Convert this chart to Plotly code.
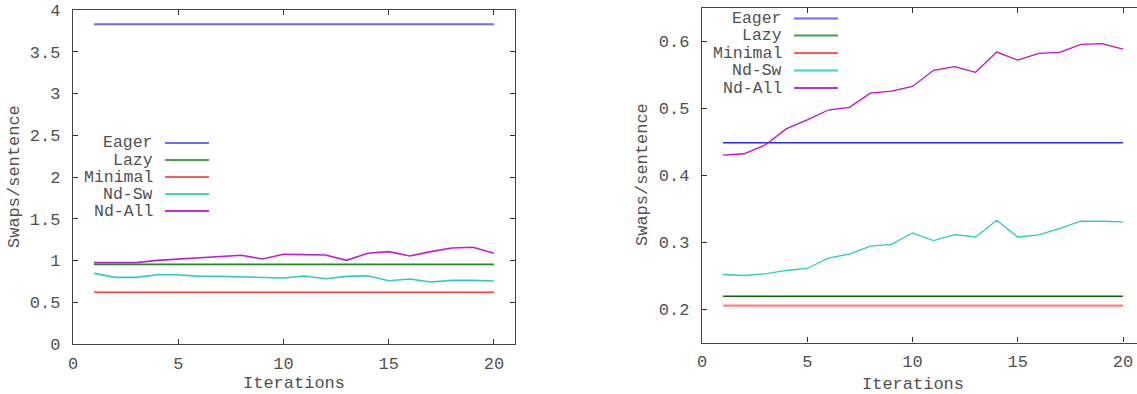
import plotly.graph_objects as go

W, H = 1137, 394

# ---------------- data ----------------
iterations = list(range(1, 21))
series_names = ["Eager", "Lazy", "Minimal", "Nd-Sw", "Nd-All"]

# left chart
eager_left = [3.83] * 20
lazy_left = [0.954] * 20
minimal_left = [0.619] * 20
ndsw_left = [0.846, 0.798, 0.798, 0.830, 0.830, 0.810, 0.810, 0.806, 0.802, 0.790,
             0.814, 0.782, 0.810, 0.818, 0.758, 0.778, 0.742, 0.762, 0.762, 0.754]
ndall_left = [0.974, 0.974, 0.974, 1.002, 1.018, 1.034, 1.050, 1.062, 1.018, 1.074,
              1.070, 1.066, 1.002, 1.086, 1.106, 1.054, 1.106, 1.150, 1.158, 1.086]

# right chart
eager_right = [0.448] * 20
lazy_right = [0.219] * 20
minimal_right = [0.205] * 20
ndsw_right = [0.2515, 0.250, 0.2525, 0.2575, 0.2605, 0.276, 0.282, 0.294, 0.2965, 0.3135,
              0.302, 0.311, 0.3075, 0.3325, 0.3075, 0.3105, 0.3205, 0.331, 0.331, 0.330]
ndall_right = [0.4296, 0.4317, 0.4447, 0.4688, 0.4824, 0.4970, 0.5010, 0.5221, 0.5251, 0.5322,
               0.5563, 0.5618, 0.5533, 0.5834, 0.5714, 0.5814, 0.5829, 0.595, 0.596, 0.588]

left_tickvals = [0, 0.5, 1, 1.5, 2, 2.5, 3, 3.5, 4]
right_tickvals = [0.2, 0.3, 0.4, 0.5, 0.6]
x_tickvals = [0, 5, 10, 15, 20]

# ---------------- styles ----------------
colors_left = ["#6a6aff", "#1a901a", "#ff3a3a", "#30c8c8", "#c020cc"]
widths_left = [2, 1.6, 1.6, 1.6, 1.6]
colors_right = ["#2a2aff", "#0a640a", "#ff8080", "#30c8c8", "#c010c8"]
widths_right = [1.5, 1.3, 2.2, 1.3, 1.3]
legend_colors = ["#6a6aff", "#4aa04a", "#ff5a5a", "#40d0d0", "#c030cc"]

FONT = "Liberation Mono, Courier New, monospace"
TXT = "#505050"
FS = 17
FS_LEG = 16.5

def px_x(x):
    return x / W

def px_y(y):
    return 1 - y / H

fig = go.Figure()

left_data = [eager_left, lazy_left, minimal_left, ndsw_left, ndall_left]
right_data = [eager_right, lazy_right, minimal_right, ndsw_right, ndall_right]

for name, ys, c, w in zip(series_names, left_data, colors_left, widths_left):
    fig.add_trace(go.Scatter(x=iterations, y=ys, mode="lines", name=name,
                             line=dict(color=c, width=w), xaxis="x", yaxis="y",
                             showlegend=False))
for name, ys, c, w in zip(series_names, right_data, colors_right, widths_right):
    fig.add_trace(go.Scatter(x=iterations, y=ys, mode="lines", name=name,
                             line=dict(color=c, width=w), xaxis="x2", yaxis="y2",
                             showlegend=False))

axis_common = dict(showgrid=False, zeroline=False, showline=True, linecolor="#444",
                   linewidth=1.3, ticks="inside", ticklen=5, tickcolor="#333",
                   automargin=False,
                   tickfont=dict(family=FONT, size=FS, color=TXT))

fig.update_layout(
    width=W, height=H,
    margin=dict(l=0, r=0, t=0, b=0, pad=0, autoexpand=False),
    paper_bgcolor="white", plot_bgcolor="white",
    xaxis=dict(domain=[px_x(73), px_x(515)], range=[0, 21], tickvals=x_tickvals,
               mirror="ticks", anchor="y", ticklabelstandoff=3, **axis_common),
    yaxis=dict(domain=[px_y(344), px_y(10)], range=[0, 4], tickvals=left_tickvals,
               mirror="ticks", anchor="x", ticklabelstandoff=8, **axis_common),
    xaxis2=dict(domain=[px_x(702), 1.0], range=[0, 20.665], tickvals=x_tickvals,
                mirror="ticks", anchor="y2", ticklabelstandoff=3, **axis_common),
    yaxis2=dict(domain=[px_y(342.5), px_y(7.5)], range=[0.15, 0.65], tickvals=right_tickvals,
                mirror=False, anchor="x2", ticklabelstandoff=8, **axis_common),
)

annotations = []
shapes = []

# axis titles
annotations.append(dict(text="Iterations", x=px_x(294), y=0, xref="paper", yref="paper",
                        showarrow=False, xanchor="center", yanchor="bottom", borderpad=0,
                        font=dict(family=FONT, size=FS, color=TXT)))
annotations.append(dict(text="Swaps/sentence", x=px_x(14), y=px_y(177), xref="paper", yref="paper",
                        showarrow=False, xanchor="center", yanchor="middle", textangle=-90,
                        font=dict(family=FONT, size=FS, color=TXT)))
annotations.append(dict(text="Iterations", x=px_x(913), y=px_y(384), xref="paper", yref="paper",
                        showarrow=False, xanchor="center", yanchor="middle", borderpad=0,
                        font=dict(family=FONT, size=FS, color=TXT)))
annotations.append(dict(text="Swaps/sentence", x=px_x(643), y=px_y(175), xref="paper", yref="paper",
                        showarrow=False, xanchor="center", yanchor="middle", textangle=-90,
                        font=dict(family=FONT, size=FS, color=TXT)))

# legends (gnuplot style: right-aligned text, sample on the right)
def add_legend(text_right, sample_x0, sample_x1, row_ys):
    for name, c, yy in zip(series_names, legend_colors, row_ys):
        annotations.append(dict(text=name, x=px_x(text_right), y=px_y(yy), xref="paper", yref="paper",
                                showarrow=False, xanchor="right", yanchor="middle",
                                height=15, borderpad=0,
                                font=dict(family=FONT, size=FS_LEG, color=TXT)))
        shapes.append(dict(type="line", xref="paper", yref="paper",
                           x0=px_x(sample_x0), x1=px_x(sample_x1), y0=px_y(yy), y1=px_y(yy),
                           line=dict(color=c, width=1.8)))

add_legend(154, 165, 209, [143, 160, 177, 194, 211])
add_legend(783, 794, 838, [18.5, 35.5, 53, 70.5, 88])

fig.update_layout(annotations=annotations, shapes=shapes)

fig.write_html(
    "out.html",
    config={"responsive": False, "displayModeBar": False},
    post_script="document.body.style.margin='0';document.body.style.padding='0';"
                "document.body.style.overflow='hidden';",
)
